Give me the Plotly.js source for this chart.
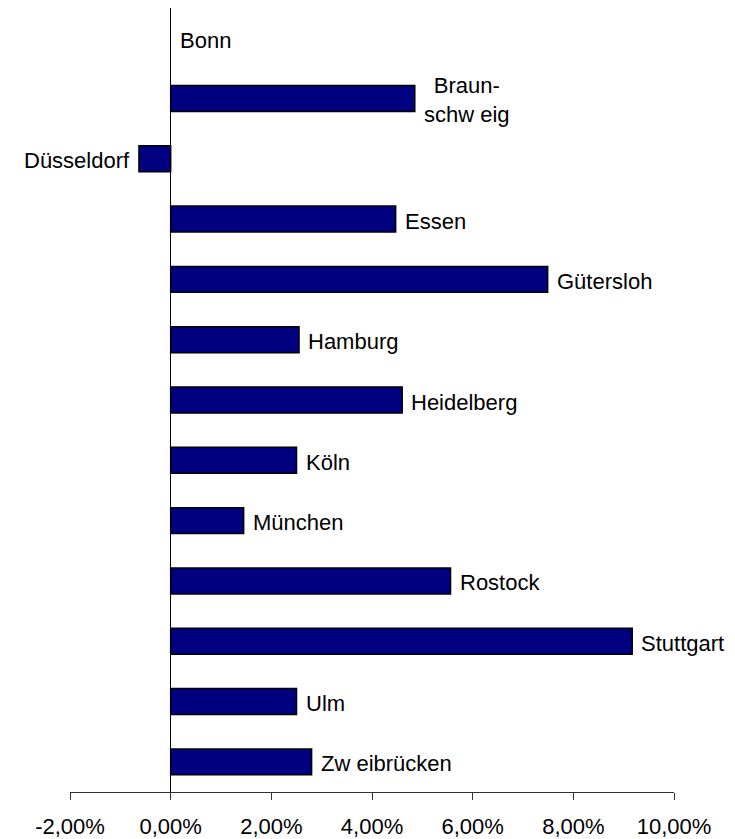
<!DOCTYPE html>
<html>
<head>
<meta charset="utf-8">
<script src="https://cdn.plot.ly/plotly-3.0.1.min.js"></script>
<style>html,body{margin:0;padding:0;background:#fff;}#chart{width:735px;height:839px;}</style>
</head>
<body>
<div id="chart"></div>
<script>
// Data (values in percent)
const cities = ['Bonn', 'Braunschweig', 'Düsseldorf', 'Essen', 'Gütersloh', 'Hamburg', 'Heidelberg', 'Köln', 'München', 'Rostock', 'Stuttgart', 'Ulm', 'Zweibrücken'];
const labels = ['Bonn', 'Braun-<br>schw eig', 'Düsseldorf', 'Essen', 'Gütersloh', 'Hamburg', 'Heidelberg', 'Köln', 'München', 'Rostock', 'Stuttgart', 'Ulm', 'Zw eibrücken'];
const values = [0.00, 4.85, -0.63, 4.47, 7.49, 2.55, 4.60, 2.50, 1.45, 5.56, 9.17, 2.50, 2.80];
const tickValues = [-2, 0, 2, 4, 6, 8, 10];
const tickLabels = ['-2,00%', '0,00%', '2,00%', '4,00%', '6,00%', '8,00%', '10,00%'];

const FONT = 'Liberation Sans, Arial, sans-serif';

const trace = {
  type: 'bar',
  orientation: 'h',
  x: values,
  y: cities,
  marker: {
    color: '#000080',
    line: { color: '#000000', width: values.map(v => (v === 0 ? 0 : 1.5)) }
  },
  hoverinfo: 'none',
  cliponaxis: false
};

const annotations = cities.map((c, i) => {
  const v = values[i];
  const neg = v < 0;
  return {
    x: v, y: c, xref: 'x', yref: 'y',
    text: labels[i],
    showarrow: false,
    xanchor: neg ? 'right' : 'left',
    yanchor: 'middle',
    align: 'center',
    xshift: neg ? -7 : 7,
    yshift: -2,
    font: { family: FONT, size: 22, color: '#000' }
  };
});

const layout = {
  width: 735, height: 839, autosize: false,
  margin: { l: 70, r: 61, t: 8, b: 47, pad: 0 },
  paper_bgcolor: '#fff', plot_bgcolor: '#fff',
  font: { family: FONT, size: 22, color: '#000' },
  showlegend: false,
  bargap: 0.57,
  xaxis: {
    range: [-2, 10],
    tickmode: 'array', tickvals: tickValues, ticktext: tickLabels,
    showgrid: false,
    zeroline: true, zerolinecolor: '#000', zerolinewidth: 1,
    showline: true, linecolor: '#333', linewidth: 1,
    ticks: 'outside', ticklen: 7, tickcolor: '#333', tickwidth: 1,
    ticklabelstandoff: 8,
    tickfont: { family: FONT, size: 22, color: '#000' },
    fixedrange: true
  },
  yaxis: {
    type: 'category',
    categoryorder: 'array', categoryarray: cities,
    autorange: 'reversed',
    showticklabels: false, showgrid: false, zeroline: false, showline: false,
    ticks: '',
    fixedrange: true
  },
  annotations: annotations
};

Plotly.newPlot('chart', [trace], layout, { staticPlot: true, displayModeBar: false });
</script>
</body>
</html>
